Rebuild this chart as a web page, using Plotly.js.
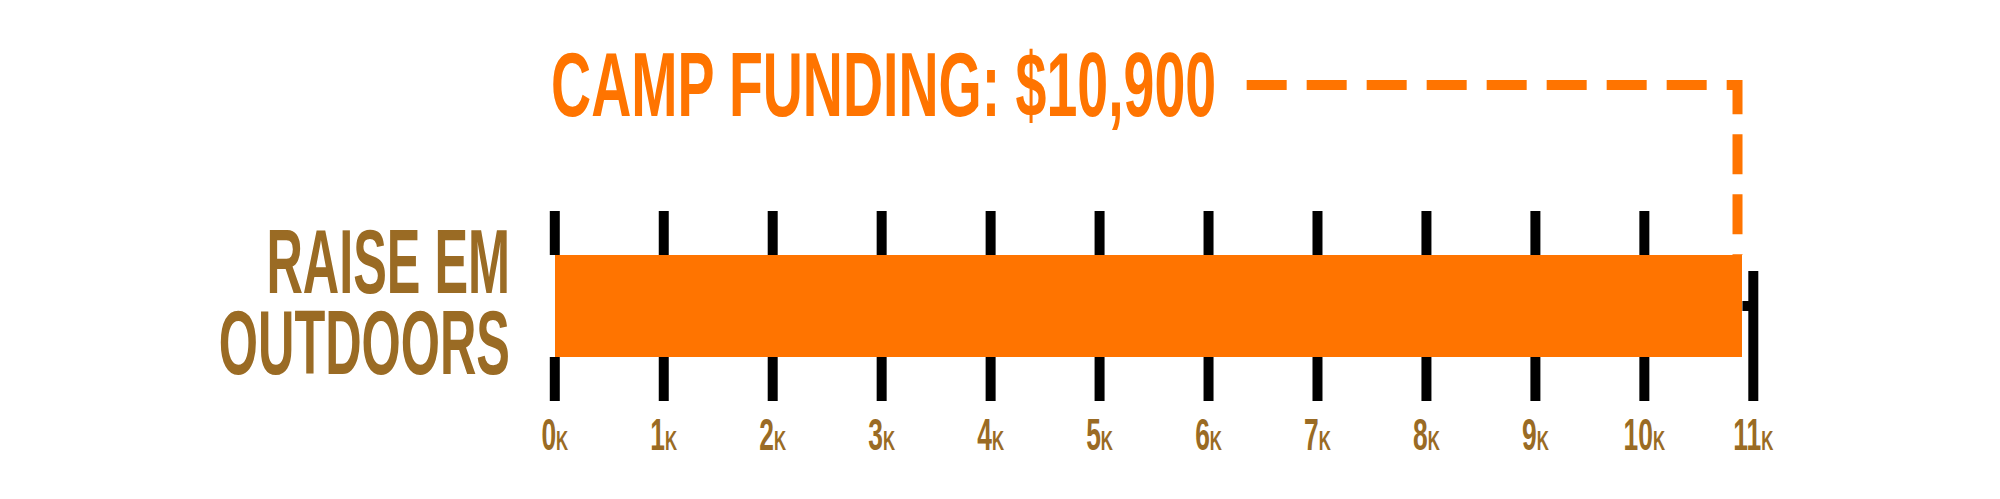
<!DOCTYPE html>
<html>
<head>
<meta charset="utf-8">
<script src="https://cdn.plot.ly/plotly-3.0.1.min.js"></script>
<style>
  html, body { margin: 0; padding: 0; background: #ffffff; }
  #plot { width: 2000px; height: 499px; }
</style>
</head>
<body>
<div id="plot"></div>
<script>
// chart values
var categories = ['RAISE EM OUTDOORS'];
var label_lines = ['RAISE EM', 'OUTDOORS'];
var funding = [10900];
var tick_vals = [0, 1, 2, 3, 4, 5, 6, 7, 8, 9, 10, 11];
var tick_text = ['0', '1', '2', '3', '4', '5', '6', '7', '8', '9', '10', '11'];

var orange = '#ff7400';
var brown = '#9a6b24';
var font_name = 'Liberation Sans, Arial, sans-serif';
var bar_width = 0.537;

var plotDiv = document.getElementById('plot');

bar_trace = {
   type: 'bar',
   orientation: 'h',
   x: funding.map(function(v) { return v / 1000; }),
   y: categories,
   width: bar_width,
   marker: {color: orange, line: {width: 0}},
   hoverinfo: 'x'
};

// black tick lines above and below the bar, last one is shorter and joined to the bar end
var shapes = [];
var half = bar_width / 2;
tick_vals.forEach(function(t, i) {
   var last = (i == tick_vals.length - 1);
   if (last) {
      shapes.push({
         type: 'line', layer: 'below',
         xref: 'x', yref: 'paper',
         x0: t, x1: t, y0: 0, y1: 0.684,
         line: {color: 'black', width: 10}
      });
   } else {
      shapes.push({
         type: 'line', layer: 'below',
         xref: 'x', yref: 'y',
         x0: t, x1: t, y0: half, y1: 0.5,
         line: {color: 'black', width: 10}
      });
      shapes.push({
         type: 'line', layer: 'below',
         xref: 'x', yref: 'y',
         x0: t, x1: t, y0: -0.5, y1: -half,
         line: {color: 'black', width: 10}
      });
   }
});
var end_k = funding[0] / 1000;
shapes.push({
   type: 'line', layer: 'below',
   xref: 'x', yref: 'y',
   x0: end_k, x1: tick_vals[tick_vals.length - 1],
   y0: 0, y1: 0,
   line: {color: 'black', width: 10}
});
// dashed leader from the title to the bar end
shapes.push({
   type: 'path', layer: 'above',
   xref: 'x', yref: 'paper',
   path: 'M 6.35,1.663 L ' + (end_k - 0.045) + ',1.663 L ' + (end_k - 0.045) + ',0.768',
   line: {color: orange, width: 10, dash: '40px,20px'}
});

var annotations = [{
   xref: 'x', yref: 'paper',
   x: 0, y: 1.665,
   xanchor: 'left', yanchor: 'middle',
   xshift: -6,
   showarrow: false,
   text: 'CAMP FUNDING: $' + funding[0].toLocaleString('en-US'),
   font: {family: font_name, size: 91, color: orange, weight: 'bold'}
}];
label_lines.forEach(function(line, i) {
   annotations.push({
      xref: 'paper', yref: 'y',
      x: -0.017, y: categories[0],
      yshift: i == 0 ? 44 : -37,
      xanchor: 'right', yanchor: 'middle',
      showarrow: false,
      text: line,
      font: {family: font_name, size: 90, color: brown, weight: 'bold'}
   });
});

// squeeze text sideways, the original lettering is a tall condensed face
function condense(el, factor, where) {
   var box = el.getBBox();
   var ax = box.x;
   if (where == 'right') ax = box.x + box.width;
   if (where == 'middle') ax = box.x + box.width / 2;
   var old = el.getAttribute('transform') || '';
   el.setAttribute('transform', old + ' translate(' + ax + ',0) scale(' + factor + ',1) translate(' + (-ax) + ',0)');
}

Plotly.newPlot(plotDiv, [bar_trace], {
   width: 2000,
   height: 499,
   margin: {l: 533, r: 214, t: 211, b: 98, pad: 0},
   paper_bgcolor: '#ffffff',
   plot_bgcolor: '#ffffff',
   showlegend: false,
   bargap: 0,
   xaxis: {
      range: [-0.2, 11.3],
      tickvals: tick_vals,
      ticktext: tick_text.map(function(t) {
         return t + '<span style="font-size:28px">K</span>';
      }),
      tickfont: {family: font_name, size: 44, color: brown, weight: 'bold'},
      showgrid: false,
      zeroline: false,
      showline: false,
      ticks: '',
      ticklabelstandoff: 4
   },
   yaxis: {
      showticklabels: false,
      showgrid: false,
      zeroline: false,
      showline: false,
      ticks: '',
      range: [-0.5, 0.5]
   },
   shapes: shapes,
   annotations: annotations
}, {displayModeBar: false, staticPlot: true}).then(function() {
   plotDiv.querySelectorAll('.annotation').forEach(function(g) {
      var i = +g.getAttribute('data-index');
      var t = g.querySelector('text');
      if (i == 0) condense(t, 0.61, 'left');
      else condense(t, 0.56, 'right');
   });
   plotDiv.querySelectorAll('.xtick text').forEach(function(t) {
      condense(t, 0.6, 'middle');
   });
});
</script>
</body>
</html>
